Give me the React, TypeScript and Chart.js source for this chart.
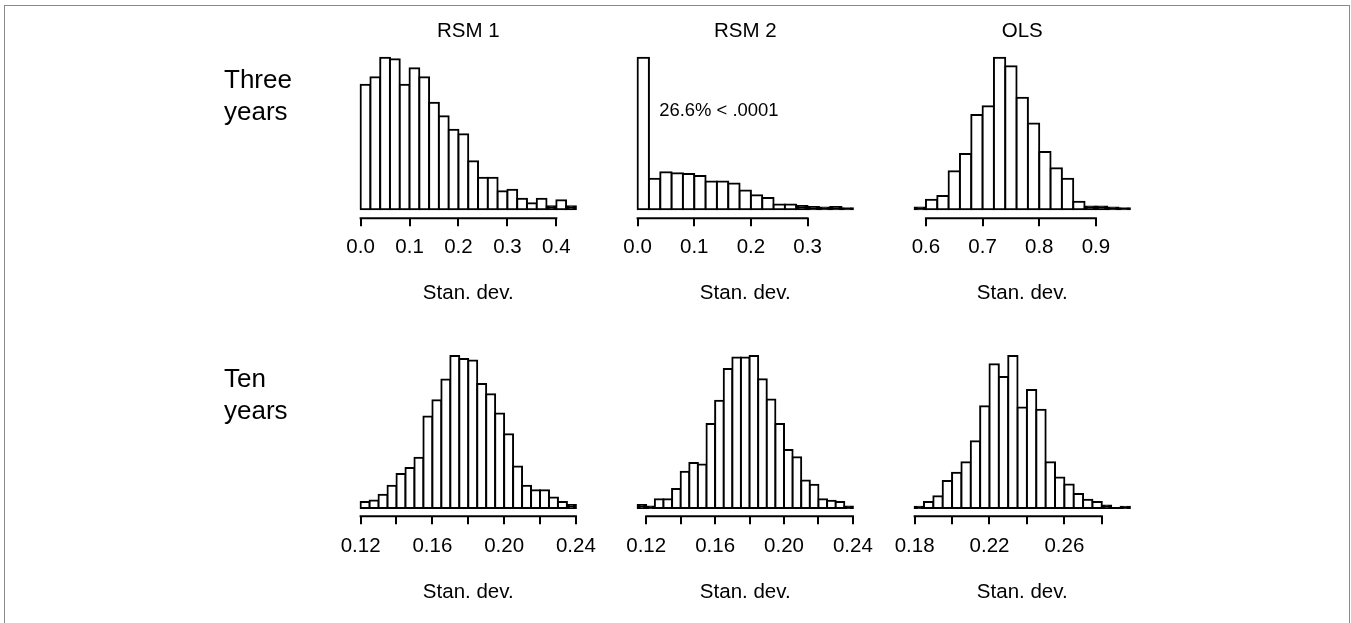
import React, { useEffect, useRef } from "react";
import { Chart, registerables } from "chart.js";

Chart.register(...registerables);

// ---------- text ----------
const columnTitles = ["RSM 1", "RSM 2", "OLS"];
const rowLabelThree = ["Three", "years"];
const rowLabelTen = ["Ten", "years"];
const xAxisTitle = "Stan. dev.";
const rsm2ThreeNote = "26.6% < .0001";
const rsm2ThreeNoteAt = [0.038, 209]; // data coordinates (x, count)

// ---------- Three years ----------
const rsm1ThreeBinStart = 0;
const rsm1ThreeBinWidth = 0.02;
const rsm1ThreeCounts = [83, 88, 101, 100, 83, 94, 88, 71, 62, 53, 50, 32, 21, 21, 12, 13, 7, 4, 7, 2, 6, 2];
const rsm1ThreeTicks = [0, 0.1, 0.2, 0.3, 0.4];
const rsm1ThreeTickLabels = ["0.0", "0.1", "0.2", "0.3", "0.4"];

const rsm2ThreeBinStart = 0;
const rsm2ThreeBinWidth = 0.02;
const rsm2ThreeCounts = [323, 65, 79, 77, 75, 71, 59, 59, 55, 40, 30, 24, 10, 10, 7, 5, 4, 5, 2];
const rsm2ThreeTicks = [0, 0.1, 0.2, 0.3];
const rsm2ThreeTickLabels = ["0.0", "0.1", "0.2", "0.3"];

const olsThreeBinStart = 0.58;
const olsThreeBinWidth = 0.02;
const olsThreeCounts = [2, 10, 14, 40, 58, 99, 108, 159, 150, 117, 90, 60, 43, 32, 8, 3, 3, 2, 1];
const olsThreeTicks = [0.6, 0.7, 0.8, 0.9];
const olsThreeTickLabels = ["0.6", "0.7", "0.8", "0.9"];

// ---------- Ten years ----------
const rsm1TenBinStart = 0.12;
const rsm1TenBinWidth = 0.005;
const rsm1TenCounts = [4, 5, 9, 15, 23, 27, 34, 62, 73, 87, 103, 101, 100, 84, 77, 64, 50, 28, 15, 12, 12, 7, 4, 2];
const rsm1TenTicks = [0.12, 0.14, 0.16, 0.18, 0.2, 0.22, 0.24];
const rsm1TenTickLabels = ["0.12", "", "0.16", "", "0.20", "", "0.24"];

const rsm2TenBinStart = 0.115;
const rsm2TenBinWidth = 0.005;
const rsm2TenCounts = [2, 1, 6, 6, 13, 25, 31, 30, 58, 74, 96, 104, 104, 105, 89, 75, 58, 40, 35, 19, 16, 6, 5, 4, 1];
const rsm2TenTicks = [0.12, 0.14, 0.16, 0.18, 0.2, 0.22, 0.24];
const rsm2TenTickLabels = ["0.12", "", "0.16", "", "0.20", "", "0.24"];

const olsTenBinStart = 0.18;
const olsTenBinWidth = 0.005;
const olsTenCounts = [1, 5, 10, 23, 30, 39, 57, 87, 123, 112, 130, 86, 101, 84, 39, 26, 20, 12, 7, 5, 2, 0, 1];
const olsTenTicks = [0.18, 0.2, 0.22, 0.24, 0.26, 0.28];
const olsTenTickLabels = ["0.18", "", "0.22", "", "0.26", ""];

// ---------- layout (pixels) ----------
const FONT = "'Liberation Sans', Arial, Helvetica, sans-serif";
const FS = 20.5;
const LH = FS * 1.2;
const TICK_LEN = 8;
const PLOT_W = 232.5;
const BAR_LINE = 2;
const colGeom = [
  { plotLeft: 352, canvasLeft: 202 },
  { plotLeft: 629, canvasLeft: 584 },
  { plotLeft: 906, canvasLeft: 861 },
];
const rowGeom = [
  { canvasTop: 0, canvasHeight: 310, chartTop: 51.5, axisY: 218.3, baseline: 209.3, peak: 57.7, labelCenter: 247.7, xTitleCenter: 293, titleCenter: 31.3, rowLabelBaselines: [88.3, 119.5] },
  { canvasTop: 300, canvasHeight: 323, chartTop: 349.9, axisY: 516.3, baseline: 507.9, peak: 356, labelCenter: 546.7, xTitleCenter: 592.7, titleCenter: 0, rowLabelBaselines: [387, 418.5] },
];
const ROW_LABEL_X = 224;
const ROW_LABEL_FS = 26;

type PanelCfg = {
  row: number;
  col: number;
  binStart: number;
  binWidth: number;
  counts: number[];
  ticks: number[];
  tickLabels: string[];
  title?: string;
  rowLabel?: string[];
  note?: { text: string; at: number[] };
};

const panels: PanelCfg[] = [
  { row: 0, col: 0, binStart: rsm1ThreeBinStart, binWidth: rsm1ThreeBinWidth, counts: rsm1ThreeCounts, ticks: rsm1ThreeTicks, tickLabels: rsm1ThreeTickLabels, title: columnTitles[0], rowLabel: rowLabelThree },
  { row: 0, col: 1, binStart: rsm2ThreeBinStart, binWidth: rsm2ThreeBinWidth, counts: rsm2ThreeCounts, ticks: rsm2ThreeTicks, tickLabels: rsm2ThreeTickLabels, title: columnTitles[1], note: { text: rsm2ThreeNote, at: rsm2ThreeNoteAt } },
  { row: 0, col: 2, binStart: olsThreeBinStart, binWidth: olsThreeBinWidth, counts: olsThreeCounts, ticks: olsThreeTicks, tickLabels: olsThreeTickLabels, title: columnTitles[2] },
  { row: 1, col: 0, binStart: rsm1TenBinStart, binWidth: rsm1TenBinWidth, counts: rsm1TenCounts, ticks: rsm1TenTicks, tickLabels: rsm1TenTickLabels, rowLabel: rowLabelTen },
  { row: 1, col: 1, binStart: rsm2TenBinStart, binWidth: rsm2TenBinWidth, counts: rsm2TenCounts, ticks: rsm2TenTicks, tickLabels: rsm2TenTickLabels },
  { row: 1, col: 2, binStart: olsTenBinStart, binWidth: olsTenBinWidth, counts: olsTenCounts, ticks: olsTenTicks, tickLabels: olsTenTickLabels },
];

const rAxisPlugin = {
  id: "rAxisLine",
  afterDraw(chart: any) {
    const s = chart.scales.x;
    const t = s.ticks;
    if (!t || !t.length) return;
    const x0 = s.getPixelForValue(t[0].value);
    const x1 = s.getPixelForValue(t[t.length - 1].value);
    const y = chart.chartArea.bottom;
    const ctx = chart.ctx;
    ctx.save();
    ctx.strokeStyle = "#000";
    ctx.lineWidth = 2;
    ctx.beginPath();
    ctx.moveTo(x0 - 1, y);
    ctx.lineTo(x1 + 1, y);
    ctx.stroke();
    ctx.restore();
  },
};

function Panel({ cfg }: { cfg: PanelCfg }) {
  const ref = useRef<HTMLCanvasElement>(null);
  const rg = rowGeom[cfg.row];
  const cg = colGeom[cfg.col];
  const padLeft = cg.plotLeft - cg.canvasLeft;
  const padRight = 45.5;
  const width = Math.round(padLeft + PLOT_W + padRight);

  useEffect(() => {
    if (!ref.current) return;
    const n = cfg.counts.length;
    const binEnd = cfg.binStart + n * cfg.binWidth;
    const range = binEnd - cfg.binStart;
    const data = cfg.counts.map((c, i) => ({ x: cfg.binStart + (i + 0.5) * cfg.binWidth, y: c }));
    const maxC = Math.max(...cfg.counts);
    const pxPerUnit = (rg.baseline - rg.peak) / maxC;
    const yMin = -(rg.axisY - rg.baseline) / pxPerUnit;
    const yMax = (rg.baseline - rg.chartTop) / pxPerUnit;
    const hasTitle = !!cfg.title;
    const titlePadTop = rg.titleCenter - rg.canvasTop - LH / 2;
    const titlePadBottom = rg.chartTop - rg.canvasTop - titlePadTop - LH;
    const xScaleHeight = rg.canvasTop + rg.canvasHeight - rg.axisY;
    const tickPad = rg.labelCenter - rg.axisY - TICK_LEN - LH / 2;
    const xTitlePadBottom = rg.canvasTop + rg.canvasHeight - rg.xTitleCenter - LH / 2;

    const textPlugin = {
      id: "extraText",
      afterDraw(chart: any) {
        const ctx = chart.ctx;
        ctx.save();
        ctx.fillStyle = "#000";
        if (cfg.rowLabel) {
          ctx.font = `${ROW_LABEL_FS}px ${FONT}`;
          ctx.textAlign = "left";
          ctx.textBaseline = "alphabetic";
          cfg.rowLabel.forEach((line, i) => {
            ctx.fillText(line, ROW_LABEL_X - cg.canvasLeft, rg.rowLabelBaselines[i] - rg.canvasTop);
          });
        }
        if (cfg.note) {
          ctx.font = `${FS * 0.9}px ${FONT}`;
          ctx.textAlign = "left";
          ctx.textBaseline = "middle";
          const x = chart.scales.x.getPixelForValue(cfg.note.at[0]);
          const y = chart.scales.y.getPixelForValue(cfg.note.at[1]);
          ctx.fillText(cfg.note.text, x, y);
        }
        ctx.restore();
      },
    };

    const chart = new Chart(ref.current, {
      type: "bar",
      data: {
        datasets: [
          {
            data,
            // bars lower than two outline widths render as solid outline, as in R
            backgroundColor: (ctx: any) =>
              ctx.raw && ctx.raw.y * pxPerUnit >= 2 * BAR_LINE ? "#ffffff" : "#000000",
            borderColor: "#000000",
            borderSkipped: false,
            borderWidth: BAR_LINE,
            inflateAmount: BAR_LINE / 2,
            minBarLength: 0.01,
            barPercentage: 1,
            categoryPercentage: 1,
          } as any,
        ],
      },
      options: {
        animation: false,
        responsive: false,
        maintainAspectRatio: false,
        devicePixelRatio: 1,
        events: [],
        layout: {
          padding: { left: padLeft, right: width - padLeft - PLOT_W, top: hasTitle ? 0 : rg.chartTop - rg.canvasTop, bottom: 0 },
        },
        plugins: {
          legend: { display: false },
          tooltip: { enabled: false },
          title: {
            display: hasTitle,
            text: cfg.title || "",
            color: "#000",
            font: { family: FONT, size: FS, weight: "normal" as any, lineHeight: 1.2 },
            padding: { top: titlePadTop, bottom: titlePadBottom },
          },
        },
        scales: {
          x: {
            type: "linear",
            min: cfg.binStart - 0.04 * range,
            max: binEnd + 0.04 * range,
            offset: false,
            bounds: "data",
            border: { display: false },
            grid: {
              display: true,
              offset: false,
              drawOnChartArea: false,
              drawTicks: true,
              tickLength: TICK_LEN,
              color: "#000",
              tickColor: "#000",
              lineWidth: 2,
              tickWidth: 2,
            },
            ticks: {
              autoSkip: false,
              maxRotation: 0,
              minRotation: 0,
              padding: tickPad,
              color: "#000",
              font: { family: FONT, size: FS, lineHeight: 1.2 },
              callback: (_v: any, i: number) => cfg.tickLabels[i],
            },
            afterBuildTicks: (s: any) => {
              s.ticks = cfg.ticks.map((v) => ({ value: v }));
            },
            afterFit: (s: any) => {
              s.height = xScaleHeight;
            },
            title: {
              display: true,
              text: xAxisTitle,
              color: "#000",
              font: { family: FONT, size: FS, lineHeight: 1.2 },
              padding: { top: 0, bottom: xTitlePadBottom },
            },
          } as any,
          y: {
            display: false,
            min: yMin,
            max: yMax,
          },
        },
      },
      plugins: [rAxisPlugin, textPlugin],
    });
    return () => chart.destroy();
  }, []);

  return (
    <canvas
      ref={ref}
      width={width}
      height={rg.canvasHeight}
      style={{
        position: "absolute",
        left: cg.canvasLeft,
        top: rg.canvasTop,
        width,
        height: rg.canvasHeight,
      }}
    />
  );
}

export default function App() {
  return (
    <div
      style={{
        position: "absolute",
        left: 0,
        top: 0,
        width: 1351,
        height: 623,
        overflow: "hidden",
        background: "#fff",
      }}
    >
      <div
        style={{
          position: "absolute",
          left: 4,
          top: 5,
          width: 1344,
          height: 700,
          border: "1px solid #8a8a8a",
        }}
      />
      {panels.map((p, i) => (
        <Panel key={i} cfg={p} />
      ))}
    </div>
  );
}
